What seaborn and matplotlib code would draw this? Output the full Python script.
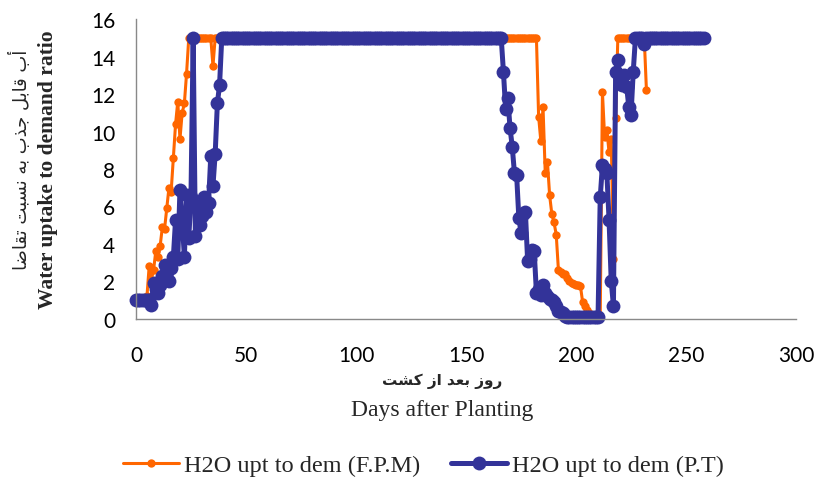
import numpy as np
import pandas as pd
import matplotlib
matplotlib.use('Agg')
import matplotlib.pyplot as plt
import seaborn as sns

# F.P.M series (orange), one value per day from day 0
fpm_values = [
    1, 1, 1, 1, 1, 1.2, 2.8, 2.1, 2.6, 3.6,            # 0-9
    3.3, 3.9, 4.9, 4.8, 5.9, 7.0, 6.8, 8.6, 10.4, 11.6,  # 10-19
    9.6, 11.0, 11.5, 13.1, 15, 15, 15, 15, 15, 15,       # 20-29
    15, 15, 15, 15, 15, 13.5, 15, 15, 15, 15,            # 30-39
    15, 15, 15, 15, 15, 15, 15, 15, 15, 15,              # 40-49
    15, 15, 15, 15, 15, 15, 15, 15, 15, 15,              # 50-59
    15, 15, 15, 15, 15, 15, 15, 15, 15, 15,              # 60-69
    15, 15, 15, 15, 15, 15, 15, 15, 15, 15,              # 70-79
    15, 15, 15, 15, 15, 15, 15, 15, 15, 15,              # 80-89
    15, 15, 15, 15, 15, 15, 15, 15, 15, 15,              # 90-99
    15, 15, 15, 15, 15, 15, 15, 15, 15, 15,              # 100-109
    15, 15, 15, 15, 15, 15, 15, 15, 15, 15,              # 110-119
    15, 15, 15, 15, 15, 15, 15, 15, 15, 15,              # 120-129
    15, 15, 15, 15, 15, 15, 15, 15, 15, 15,              # 130-139
    15, 15, 15, 15, 15, 15, 15, 15, 15, 15,              # 140-149
    15, 15, 15, 15, 15, 15, 15, 15, 15, 15,              # 150-159
    15, 15, 15, 15, 15, 15, 15, 15, 15, 15,              # 160-169
    15, 15, 15, 15, 15, 15, 15, 15, 15, 15,              # 170-179
    15, 15, 15, 10.8, 9.5, 11.3, 7.8, 8.4, 6.6, 5.6,     # 180-189
    5.15, 4.5, 2.6, 2.5, 2.4, 2.4, 2.2, 2.0, 1.9, 1.85,  # 190-199
    1.8, 1.8, 1.75, 0.9, 0.7, 0.5, 0.3, 0.2, 0.1, 0.1,   # 200-209
    0.1, 0.1, 12.1, 9.7, 10.1, 8.9, 9.6, 3.2, 10.7, 15,  # 210-219
    15, 15, 15, 15, 15, 15, 15, 15, 15, 15,              # 220-229
    15, 15, 12.2,                                        # 230-232
]
fpm_days = list(range(len(fpm_values)))

# P.T series (blue), one value per day from day 0
pt_values = [
    1, 1, 1, 1, 1, 1, 1, 0.75, 1.9, 1.6,                 # 0-9
    1.4, 1.8, 2.3, 2.9, 2.5, 2.0, 2.7, 3.3, 5.3, 3.2,    # 10-19
    6.9, 5.3, 3.3, 6.6, 4.3, 6.5, 15, 4.4, 6.0, 5.0,     # 20-29
    5.5, 6.5, 5.7, 6.2, 8.7, 7.1, 8.8, 11.5, 12.5, 15,   # 30-39
    15, 15, 15, 15, 15, 15, 15, 15, 15, 15,              # 40-49
    15, 15, 15, 15, 15, 15, 15, 15, 15, 15,              # 50-59
    15, 15, 15, 15, 15, 15, 15, 15, 15, 15,              # 60-69
    15, 15, 15, 15, 15, 15, 15, 15, 15, 15,              # 70-79
    15, 15, 15, 15, 15, 15, 15, 15, 15, 15,              # 80-89
    15, 15, 15, 15, 15, 15, 15, 15, 15, 15,              # 90-99
    15, 15, 15, 15, 15, 15, 15, 15, 15, 15,              # 100-109
    15, 15, 15, 15, 15, 15, 15, 15, 15, 15,              # 110-119
    15, 15, 15, 15, 15, 15, 15, 15, 15, 15,              # 120-129
    15, 15, 15, 15, 15, 15, 15, 15, 15, 15,              # 130-139
    15, 15, 15, 15, 15, 15, 15, 15, 15, 15,              # 140-149
    15, 15, 15, 15, 15, 15, 15, 15, 15, 15,              # 150-159
    15, 15, 15, 15, 15, 15, 15, 13.2, 11.2, 11.8,        # 160-169
    10.2, 9.2, 7.8, 7.7, 5.4, 4.6, 5.6, 5.7, 3.1, 3.2,   # 170-179
    3.7, 3.6, 1.4, 1.6, 1.3, 1.8, 1.4, 1.2, 1.05, 1.0,   # 180-189
    0.9, 0.7, 0.4, 0.35, 0.3, 0.15, 0.1, 0.1, 0.1, 0.1,  # 190-199
    0.1, 0.1, 0.1, 0.1, 0.1, 0.1, 0.1, 0.1, 0.1, 0.1,    # 200-209
    0.1, 6.5, 8.2, 8.0, 7.8, 5.3, 2.0, 0.7, 13.2, 13.8,  # 210-219
    12.8, 12.5, 13.0, 12.4, 11.3, 10.9, 13.2, 15, 15, 15, # 220-229
    15, 14.7, 15, 15, 15, 15, 15, 15, 15, 15,            # 230-239
    15, 15, 15, 15, 15, 15, 15, 15, 15, 15,              # 240-249
    15, 15, 15, 15, 15, 15, 15, 15, 15,                  # 250-258
]
pt_days = list(range(len(pt_values)))

x_ticks = [0, 50, 100, 150, 200, 250, 300]
y_ticks = [0, 2, 4, 6, 8, 10, 12, 14, 16]

fpm_label = 'H2O upt to dem (F.P.M)'
pt_label = 'H2O upt to dem (P.T)'

# persian labels, written in presentation forms (visual order) since matplotlib does no shaping
x_label_fa = '\uFE96\uFEB8\uFB90 \uFEAF\uFE8D \uFEAA\uFECC\uFE91 \uFEAF\uFEED\uFEAD'
y_label_fa = ('\uFE8E\uFEBF\uFE8E\uFED8\uFE97 \uFE96\uFE92\uFEB4\uFEE7 \uFEEA\uFE91 '
              '\uFE8F\uFEAC\uFE9F \uFEDE\uFE91\uFE8E\uFED7 \uFE8F\uFE83')
x_label_en = 'Days after Planting'
y_label_en = 'Water uptake to demand ratio'

orange = '#FF6600'
blue = '#333399'
grey = '#898989'

sns.set_style('white')
plt.rcParams['font.family'] = ['Lato', 'DejaVu Sans']

fpm = pd.DataFrame({'day': fpm_days, 'ratio': fpm_values})
pt = pd.DataFrame({'day': pt_days, 'ratio': pt_values})

fig = plt.figure(figsize=(8.19, 4.81), dpi=100)
ax = fig.add_axes([0.166, 0.335, 0.806, 0.623])

sns.lineplot(data=fpm, x='day', y='ratio', ax=ax, color=orange, linewidth=2.2,
             marker='o', markersize=6, markeredgewidth=0, clip_on=False,
             label=fpm_label, legend=False)
sns.lineplot(data=pt, x='day', y='ratio', ax=ax, color=blue, linewidth=3.6,
             marker='o', markersize=10, markeredgewidth=0, clip_on=False,
             label=pt_label, legend=False)

ax.set_xlim(0, 300)
ax.set_ylim(0, 16)
ax.set_xticks(x_ticks)
ax.set_yticks(y_ticks)
ax.set_xlabel('')
ax.set_ylabel('')
ax.tick_params(axis='both', labelsize=15, colors=grey, labelcolor='black',
               length=5, width=1, direction='out')
ax.tick_params(axis='x', pad=14)
ax.tick_params(axis='y', pad=10)
for s in ['top', 'right']:
    ax.spines[s].set_visible(False)
for s in ['left', 'bottom']:
    ax.spines[s].set_color(grey)
    ax.spines[s].set_linewidth(1)

fig.text(0.540, 0.208, x_label_fa, ha='center', va='center', fontsize=11,
         fontweight='bold', family='DejaVu Sans')
fig.text(0.540, 0.146, x_label_en, ha='center', va='center', fontsize=17,
         family='Liberation Serif')
fig.text(0.059, 0.647, y_label_en, ha='center', va='center', fontsize=15.5,
         fontweight='bold', family='Liberation Serif', rotation=90)
fig.text(0.024, 0.667, y_label_fa, ha='center', va='center', fontsize=13,
         family='DejaVu Sans', rotation=90)

handles, labels = ax.get_legend_handles_labels()
fig.legend(handles, labels, loc='center', bbox_to_anchor=(0.517, 0.031), ncol=2,
           frameon=False, prop={'family': 'Liberation Serif', 'size': 17.5},
           handlelength=2.3, handletextpad=0.2, columnspacing=1.3)

fig.savefig('out.png', dpi=100)
